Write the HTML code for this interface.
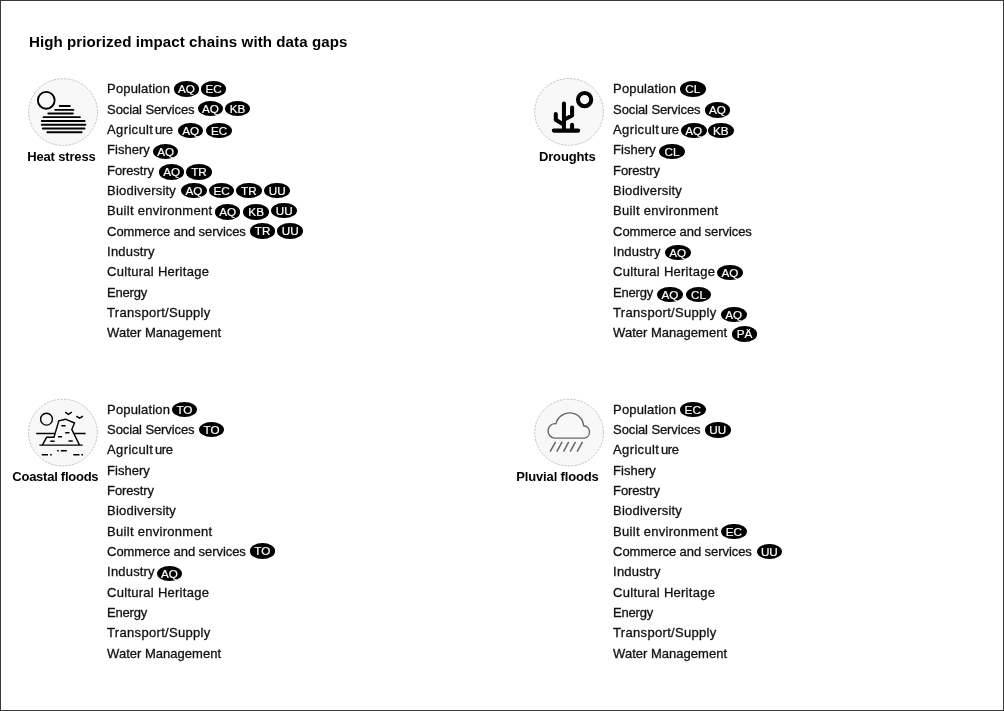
<!DOCTYPE html>
<html><head><meta charset="utf-8"><title>High priorized impact chains with data gaps</title>
<style>
html,body{margin:0;padding:0;background:#fff}
body{width:1004px;height:711px;position:relative;overflow:hidden;font-family:"Liberation Sans",sans-serif;color:#111}
#wrap{position:absolute;left:0;top:0;width:1004px;height:711px;filter:blur(0.35px)}
#frame{position:absolute;left:0;top:0;width:1002px;height:709px;border:1px solid #3a3a3a}
.t{position:absolute;white-space:nowrap;line-height:16px;font-size:13px;color:#111;-webkit-text-stroke:0.3px #111}
.h{position:absolute;white-space:nowrap;font-weight:bold;color:#000}
.b{position:absolute;width:25.7px;height:15.5px;border-radius:50%;background:#000;color:#fff;font-size:11.7px;line-height:16.5px;text-align:center;-webkit-text-stroke:0.2px #fff}
svg{position:absolute;left:0;top:0}
</style></head><body>
<div id="frame"></div>
<div id="wrap">

<div class="h" style="left:28.95px;top:33.00px;font-size:15.10px;line-height:18px;letter-spacing:0.073px">High priorized impact chains with data gaps</div>
<div class="h" style="left:27.17px;top:148.00px;font-size:13px;line-height:18px;letter-spacing:-0.152px">Heat stress</div>
<div class="h" style="left:538.97px;top:148.00px;font-size:13px;line-height:18px;letter-spacing:-0.146px">Droughts</div>
<div class="h" style="left:12.32px;top:468.00px;font-size:13px;line-height:18px;letter-spacing:-0.252px">Coastal floods</div>
<div class="h" style="left:516.27px;top:468.00px;font-size:13px;line-height:18px;letter-spacing:-0.149px">Pluvial floods</div>
<div class="t" style="left:107.10px;top:81.00px;letter-spacing:0.156px">Population</div>
<div class="b" style="left:173.5px;top:81.1px">AQ</div>
<div class="b" style="left:200.8px;top:81.1px">EC</div>
<div class="t" style="left:107.10px;top:102.00px;letter-spacing:-0.104px">Social Services</div>
<div class="b" style="left:197.6px;top:100.8px">AQ</div>
<div class="b" style="left:224.6px;top:100.8px">KB</div>
<div class="t" style="left:107.10px;top:122.00px;letter-spacing:0.353px">Agricult<span style="margin-left:1.7px;letter-spacing:-0.4px">ure</span></div>
<div class="b" style="left:177.8px;top:122.8px">AQ</div>
<div class="b" style="left:206.2px;top:122.8px">EC</div>
<div class="t" style="left:107.10px;top:142.00px;letter-spacing:0.000px">Fishery</div>
<div class="b" style="left:152.8px;top:143.8px">AQ</div>
<div class="t" style="left:107.10px;top:163.00px;letter-spacing:-0.117px">Forestry</div>
<div class="b" style="left:158.8px;top:164.4px">AQ</div>
<div class="b" style="left:186.2px;top:164.4px">TR</div>
<div class="t" style="left:107.10px;top:183.00px;letter-spacing:0.209px">Biodiversity</div>
<div class="b" style="left:181.1px;top:182.7px">AQ</div>
<div class="b" style="left:208.8px;top:182.7px">EC</div>
<div class="b" style="left:236.0px;top:182.7px">TR</div>
<div class="b" style="left:264.4px;top:182.7px">UU</div>
<div class="t" style="left:107.10px;top:203.00px;letter-spacing:0.281px">Built environment</div>
<div class="b" style="left:214.8px;top:204.2px">AQ</div>
<div class="b" style="left:243.3px;top:204.2px">KB</div>
<div class="b" style="left:271.4px;top:202.8px">UU</div>
<div class="t" style="left:107.10px;top:224.00px;letter-spacing:-0.073px">Commerce and services</div>
<div class="b" style="left:249.8px;top:223.4px">TR</div>
<div class="b" style="left:277.3px;top:223.4px">UU</div>
<div class="t" style="left:107.10px;top:244.00px;letter-spacing:0.184px">Industry</div>
<div class="t" style="left:107.10px;top:264.00px;letter-spacing:0.264px">Cultural Heritage</div>
<div class="t" style="left:107.10px;top:285.00px;letter-spacing:-0.205px">Energy</div>
<div class="t" style="left:107.10px;top:305.00px;letter-spacing:0.312px">Transport/Supply</div>
<div class="t" style="left:107.10px;top:325.00px;letter-spacing:0.020px">Water Management</div>
<div class="t" style="left:613.10px;top:81.00px;letter-spacing:0.156px">Population</div>
<div class="b" style="left:679.9px;top:81.1px">CL</div>
<div class="t" style="left:613.10px;top:102.00px;letter-spacing:-0.104px">Social Services</div>
<div class="b" style="left:704.6px;top:102.0px">AQ</div>
<div class="t" style="left:613.10px;top:122.00px;letter-spacing:0.353px">Agricult<span style="margin-left:1.7px;letter-spacing:-0.4px">ure</span></div>
<div class="b" style="left:680.9px;top:122.8px">AQ</div>
<div class="b" style="left:708.0px;top:122.8px">KB</div>
<div class="t" style="left:613.10px;top:142.00px;letter-spacing:0.000px">Fishery</div>
<div class="b" style="left:659.1px;top:143.7px">CL</div>
<div class="t" style="left:613.10px;top:163.00px;letter-spacing:-0.117px">Forestry</div>
<div class="t" style="left:613.10px;top:183.00px;letter-spacing:0.209px">Biodiversity</div>
<div class="t" style="left:613.10px;top:203.00px;letter-spacing:0.281px">Built environment</div>
<div class="t" style="left:613.10px;top:224.00px;letter-spacing:-0.073px">Commerce and services</div>
<div class="t" style="left:613.10px;top:244.00px;letter-spacing:0.184px">Industry</div>
<div class="b" style="left:664.9px;top:244.7px">AQ</div>
<div class="t" style="left:613.10px;top:264.00px;letter-spacing:0.264px">Cultural Heritage</div>
<div class="b" style="left:717.2px;top:264.7px">AQ</div>
<div class="t" style="left:613.10px;top:285.00px;letter-spacing:-0.205px">Energy</div>
<div class="b" style="left:657.0px;top:286.7px">AQ</div>
<div class="b" style="left:685.6px;top:286.7px">CL</div>
<div class="t" style="left:613.10px;top:305.00px;letter-spacing:0.312px">Transport/Supply</div>
<div class="b" style="left:720.9px;top:306.6px">AQ</div>
<div class="t" style="left:613.10px;top:325.00px;letter-spacing:0.020px">Water Management</div>
<div class="b" style="left:731.6px;top:326.1px">PÄ</div>
<div class="t" style="left:107.10px;top:402.00px;letter-spacing:0.156px">Population</div>
<div class="b" style="left:171.6px;top:401.9px">TO</div>
<div class="t" style="left:107.10px;top:422.00px;letter-spacing:-0.104px">Social Services</div>
<div class="b" style="left:198.7px;top:421.7px">TO</div>
<div class="t" style="left:107.10px;top:442.00px;letter-spacing:0.353px">Agricult<span style="margin-left:1.7px;letter-spacing:-0.4px">ure</span></div>
<div class="t" style="left:107.10px;top:463.00px;letter-spacing:0.000px">Fishery</div>
<div class="t" style="left:107.10px;top:483.00px;letter-spacing:-0.117px">Forestry</div>
<div class="t" style="left:107.10px;top:503.00px;letter-spacing:0.209px">Biodiversity</div>
<div class="t" style="left:107.10px;top:524.00px;letter-spacing:0.281px">Built environment</div>
<div class="t" style="left:107.10px;top:544.00px;letter-spacing:-0.073px">Commerce and services</div>
<div class="b" style="left:249.5px;top:543.2px">TO</div>
<div class="t" style="left:107.10px;top:564.00px;letter-spacing:0.184px">Industry</div>
<div class="b" style="left:156.7px;top:565.6px">AQ</div>
<div class="t" style="left:107.10px;top:585.00px;letter-spacing:0.264px">Cultural Heritage</div>
<div class="t" style="left:107.10px;top:605.00px;letter-spacing:-0.205px">Energy</div>
<div class="t" style="left:107.10px;top:625.00px;letter-spacing:0.312px">Transport/Supply</div>
<div class="t" style="left:107.10px;top:646.00px;letter-spacing:0.020px">Water Management</div>
<div class="t" style="left:613.10px;top:402.00px;letter-spacing:0.156px">Population</div>
<div class="b" style="left:679.9px;top:401.8px">EC</div>
<div class="t" style="left:613.10px;top:422.00px;letter-spacing:-0.104px">Social Services</div>
<div class="b" style="left:704.9px;top:422.2px">UU</div>
<div class="t" style="left:613.10px;top:442.00px;letter-spacing:0.353px">Agricult<span style="margin-left:1.7px;letter-spacing:-0.4px">ure</span></div>
<div class="t" style="left:613.10px;top:463.00px;letter-spacing:0.000px">Fishery</div>
<div class="t" style="left:613.10px;top:483.00px;letter-spacing:-0.117px">Forestry</div>
<div class="t" style="left:613.10px;top:503.00px;letter-spacing:0.209px">Biodiversity</div>
<div class="t" style="left:613.10px;top:524.00px;letter-spacing:0.281px">Built environment</div>
<div class="b" style="left:721.1px;top:523.8px">EC</div>
<div class="t" style="left:613.10px;top:544.00px;letter-spacing:-0.073px">Commerce and services</div>
<div class="b" style="left:756.5px;top:543.9px">UU</div>
<div class="t" style="left:613.10px;top:564.00px;letter-spacing:0.184px">Industry</div>
<div class="t" style="left:613.10px;top:585.00px;letter-spacing:0.264px">Cultural Heritage</div>
<div class="t" style="left:613.10px;top:605.00px;letter-spacing:-0.205px">Energy</div>
<div class="t" style="left:613.10px;top:625.00px;letter-spacing:0.312px">Transport/Supply</div>
<div class="t" style="left:613.10px;top:646.00px;letter-spacing:0.020px">Water Management</div>
<svg width="1004" height="711" viewBox="0 0 1004 711" fill="none" stroke-linecap="round" stroke-linejoin="round">
<g fill="#f8f8f8" stroke="#a8a8a8" stroke-width="0.7" stroke-dasharray="1.5 2">
<ellipse cx="63.1" cy="112.1" rx="34.4" ry="33.4"/>
<ellipse cx="569" cy="111.9" rx="34.4" ry="33.4"/>
<ellipse cx="62.9" cy="432.6" rx="34.4" ry="33.4"/>
<ellipse cx="569.1" cy="432.6" rx="34.4" ry="33.4"/>
</g>
<!-- heat stress -->
<g stroke="#000" stroke-width="1.9">
<circle cx="46.25" cy="100.3" r="8.4"/>
<path d="M59.7 105.95H69.8M55.3 109.9H73.4M48.3 113.5H72.9M43.6 117.15H79.9M41.8 120.95H84.6M41.8 124.75H85.4M42.8 128.5H84.6M47.4 132.2H81.6"/>
</g>
<!-- droughts -->
<g stroke="#000" stroke-width="4.05">
<circle cx="584.6" cy="99.6" r="6.65"/>
<path d="M553.8 130.6H578.2M563.95 103.6V130.6M555.8 114V119.8L563.95 124.9M572.1 107.4V115.5L563.95 119.8M572.1 124.8V130.6"/>
</g>
<!-- coastal floods -->
<g stroke="#000" stroke-width="1.4" stroke-linecap="butt" stroke-linejoin="miter">
<circle cx="46.5" cy="419.2" r="5.9"/>
<path d="M65.2 412.1L68.4 414.3L71.8 412.1M76.3 416.2L79.6 418.2L83 416.2"/>
<path d="M42.4 445.1L46.6 437.3H54L58.8 420.9L65.4 419.2L74.5 423L71.8 429.4L79.5 445.1"/>
<path d="M39.4 445.1H82.6M36.2 433.5H54.8M74.2 433.5H85.6"/>
<path d="M61.3 425.7H65.6M65.2 432.7H69.5M58 436.7H62.1M50.3 441.2H54.6M68.5 441H72.7"/>
<path d="M57.2 450.8H58.8M60.8 450.8H66.8M41.8 454.8H48M50.2 454.8H51.8M73.3 454.8H79.5M81.4 454.8H83"/>
</g>
<!-- pluvial floods -->
<g stroke="#666" stroke-width="1.4">
<path d="M554.5 438.1A7.2 7.2 0 0 1 556 423.7A14 14 0 0 1 583.6 425.8A6.2 6.2 0 0 1 584.4 438.1Z"/>
<path d="M555.6 441.9L550.1 451.6M562.1 441.9L556.8 451.6M568.7 441.9L563.5 451.6M575.5 441.9L570.2 451.6M582.5 441.9L577.2 451.6" stroke-width="1.5" stroke-linecap="butt"/>
</g>
</svg>

</div>
</body></html>
